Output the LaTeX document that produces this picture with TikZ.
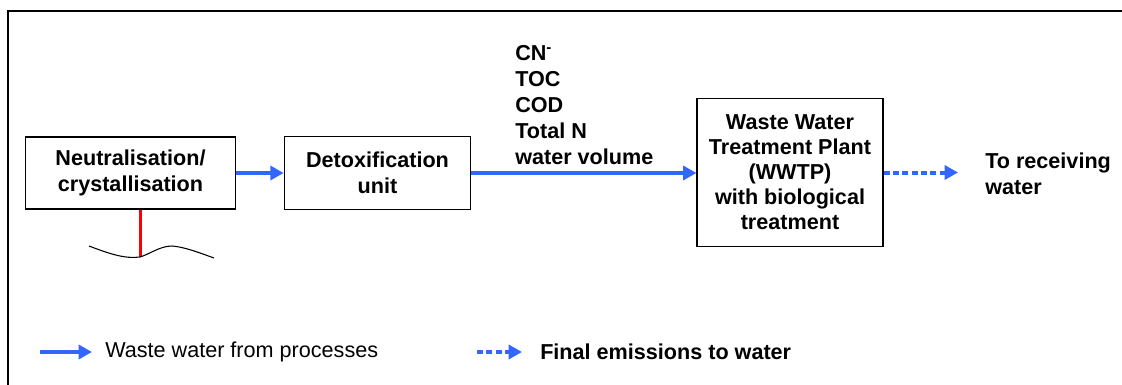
\documentclass[tikz,border=0pt]{standalone}
\usepackage{fontspec}
\setmainfont{Liberation Sans}
\usepackage{tikz}
\usetikzlibrary{arrows.meta}

\definecolor{flowblue}{RGB}{51,102,255}

\begin{document}
\begin{tikzpicture}[x=0.75pt,y=-0.75pt,
        unitbox/.style={draw,line width=0.8pt,align=center,font=\bfseries\fontsize{16.2}{19.5}\selectfont},
        flow/.style={flowblue,line width=3pt,-{Triangle[length=10pt,width=10.5pt]}},
        emission/.style={flow,dash pattern=on 4.5pt off 2.5pt},
        labeltext/.style={align=left,inner sep=0pt,font=\bfseries\fontsize{16.2}{19.5}\selectfont}]
        \useasboundingbox (0,0) rectangle (1122,385);
        \draw[line width=1.5pt] (8,385) |- (1122,11.5);
        \node[unitbox,minimum width=157pt,minimum height=54pt] (neutral) at (130.5,173) {Neutralisation/\\crystallisation};
        \node[unitbox,minimum width=140pt,minimum height=55pt] (detox) at (377.5,173) {Detoxification\\unit};
        \node[unitbox,minimum width=139.5pt,minimum height=111pt,font=\bfseries\fontsize{16.2}{18.75}\selectfont] (wwtp) at (790,172.5) {Waste Water\\Treatment Plant\\(WWTP)\\with biological\\treatment};
        \node[labeltext,anchor=west] (params) at (515,105) {CN\textsuperscript{-}\\TOC\\COD\\Total N\\water volume};
        \node[labeltext,anchor=west] (receiving) at (985,174) {To receiving\\water};
        \draw[flow] (neutral.east) -- (detox.west);
        \draw[flow] (detox.east) -- (detox.east -| wwtp.west);
        \coordinate (outlet) at (958,172.5);
        \draw[emission] (wwtp.east) -- (outlet);
        % ground below the neutralisation step
        \coordinate (drain) at (140,257);
        \draw[red,line width=2.25pt] (drain |- neutral.south) -- (drain);
        \draw[line width=0.8pt] (89,246) .. controls (110,254) and (125,259) .. (drain)
            .. controls (150,254) and (160,246) .. (172,246)
            .. controls (185,247) and (200,253) .. (214,258);
        % legend
        \coordinate (solidA) at (40,352);
        \coordinate (solidB) at (92,352);
        \coordinate (dotA) at (477,352);
        \coordinate (dotB) at (522,352);
        \draw[flow] (solidA) -- (solidB);
        \draw[emission] (dotA) -- (dotB);
        \node[anchor=west,inner sep=0pt,font=\fontsize{16.2}{19.5}\selectfont] (solidtext) at (105,352) {Waste water from processes};
        \node[labeltext,anchor=west] (dottext) at (540,352) {Final emissions to water};
    \end{tikzpicture}
\end{document}
